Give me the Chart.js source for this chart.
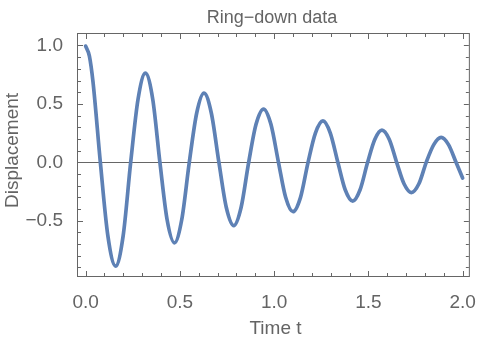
<!DOCTYPE html>
<html>
<head>
<meta charset="utf-8">
<script src="https://cdn.jsdelivr.net/npm/chart.js@4"></script>
<style>
  html, body { margin: 0; padding: 0; background: #ffffff; }
  #wrap { width: 482px; height: 341px; }
</style>
</head>
<body>
<div id="wrap"><canvas id="c" width="482" height="341"></canvas></div>
<script>
// ---- data ----
const titleText = "Ring\u2212down data";
const xLabel = "Time t";
const yLabel = "Displacement";

const times = [
  0.000, 0.020, 0.039, 0.078, 0.118, 0.159, 0.199, 0.239, 0.278, 0.317, 0.356,
  0.394, 0.432, 0.471, 0.510, 0.550, 0.589, 0.628, 0.667, 0.707, 0.746,
  0.786, 0.825, 0.865, 0.904, 0.944, 0.983, 1.023, 1.061, 1.100, 1.140,
  1.180, 1.219, 1.259, 1.298, 1.338, 1.377, 1.417, 1.456, 1.496, 1.534,
  1.572, 1.611, 1.650, 1.689, 1.728, 1.768, 1.807, 1.847, 1.886, 1.925,
  1.965, 2.000
];
const displacement = [
  0.995, 0.910, 0.690, 0.000, -0.630, -0.889, -0.630, 0.000, 0.540, 0.763, 0.540,
  0.000, -0.490, -0.689, -0.490, 0.000, 0.420, 0.592, 0.420, 0.000, -0.385,
  -0.542, -0.385, 0.000, 0.325, 0.456, 0.325, 0.000, -0.300, -0.423, -0.300,
  0.000, 0.250, 0.354, 0.250, 0.000, -0.235, -0.332, -0.235, 0.000, 0.195,
  0.275, 0.195, 0.000, -0.184, -0.259, -0.184, 0.000, 0.151, 0.213, 0.151,
  0.000, -0.135
];

const xTickValues = [0, 0.5, 1.0, 1.5, 2.0];
const yTickValues = [-0.5, 0, 0.5, 1.0];
const xMinorTickValues = [0.1,0.2,0.3,0.4,0.6,0.7,0.8,0.9,1.1,1.2,1.3,1.4,1.6,1.7,1.8,1.9];
const yMinorTickValues = [-0.9,-0.8,-0.7,-0.6,-0.4,-0.3,-0.2,-0.1,0.1,0.2,0.3,0.4,0.6,0.7,0.8,0.9];

// ---- styling ----
const FONT = "'Liberation Sans', Arial, Helvetica, sans-serif";
const TEXT = "#646464";
const FRAME = "#666666";
const LINE = "rgb(94,129,181)";

const points = times.map((t, i) => ({ x: t, y: displacement[i] }));
const fmt = v => { const s = Math.abs(v).toFixed(1); return v < 0 ? "\u2212" + s : s; };

const framePlugin = {
  id: "framePlugin",
  beforeDatasetsDraw(chart) {
    const { ctx, chartArea: a, scales } = chart;
    const xs = scales.x, ys = scales.y;
    ctx.save();
    ctx.strokeStyle = FRAME;
    ctx.lineWidth = 1;
    const y0 = Math.round(ys.getPixelForValue(0)) + 0.5;
    ctx.beginPath();
    ctx.moveTo(a.left, y0); ctx.lineTo(a.right, y0);
    ctx.stroke();
    ctx.strokeRect(a.left + 0.5, a.top + 0.5, a.right - a.left - 1, a.bottom - a.top - 1);
    const tick = (vals, len) => {
      vals.forEach(v => {
        const px = Math.round(xs.getPixelForValue(v)) + 0.5;
        ctx.beginPath();
        ctx.moveTo(px, a.bottom - 1); ctx.lineTo(px, a.bottom - 1 - len);
        ctx.moveTo(px, a.top + 1); ctx.lineTo(px, a.top + 1 + len);
        ctx.stroke();
      });
    };
    const ytick = (vals, len) => {
      vals.forEach(v => {
        const py = Math.round(ys.getPixelForValue(v)) + 0.5;
        ctx.beginPath();
        ctx.moveTo(a.left + 1, py); ctx.lineTo(a.left + 1 + len, py);
        ctx.moveTo(a.right - 1, py); ctx.lineTo(a.right - 1 - len, py);
        ctx.stroke();
      });
    };
    tick(xTickValues, 5); tick(xMinorTickValues, 3);
    ytick(yTickValues, 5); ytick(yMinorTickValues, 3);
    ctx.restore();
  },
  afterDraw(chart) {
    const { ctx } = chart;
    ctx.save();
    ctx.fillStyle = TEXT;
    ctx.textAlign = "center";
    ctx.textBaseline = "alphabetic";
    ctx.font = "18px " + FONT;
    ctx.fillText(titleText, 272, 23);
    ctx.font = "19px " + FONT;
    ctx.fillText(xLabel, 275.5, 334);
    ctx.translate(18, 150.5);
    ctx.rotate(-Math.PI / 2);
    ctx.fillText(yLabel, 0, 0);
    ctx.restore();
  }
};

new Chart(document.getElementById("c"), {
  type: "line",
  data: {
    datasets: [{
      data: points,
      borderColor: LINE,
      borderWidth: 3.7,
      pointRadius: 0,
      fill: false,
      cubicInterpolationMode: "monotone",
      borderCapStyle: "round",
      borderJoinStyle: "round"
    }]
  },
  options: {
    responsive: false,
    animation: false,
    devicePixelRatio: 1,
    layout: { padding: { top: 33, right: 9, left: 0, bottom: 0 } },
    plugins: { legend: { display: false }, tooltip: { enabled: false }, title: { display: false } },
    scales: {
      x: {
        type: "linear",
        min: -0.0458, max: 2.0384,
        grid: { display: false },
        border: { display: false },
        afterBuildTicks: s => { s.ticks = xTickValues.map(v => ({ value: v })); },
        afterFit: s => { s.height = 64; },
        ticks: {
          autoSkip: false, maxRotation: 0, padding: 6,
          color: TEXT, font: { family: FONT, size: 19 },
          callback: v => fmt(v)
        }
      },
      y: {
        type: "linear",
        min: -0.982, max: 1.107,
        grid: { display: false },
        border: { display: false },
        afterBuildTicks: s => { s.ticks = yTickValues.map(v => ({ value: v })); },
        afterFit: s => { s.width = 77; },
        ticks: {
          autoSkip: false, padding: 6,
          color: TEXT, font: { family: FONT, size: 19 },
          callback: v => fmt(v)
        }
      }
    }
  },
  plugins: [framePlugin]
});
</script>
</body>
</html>
